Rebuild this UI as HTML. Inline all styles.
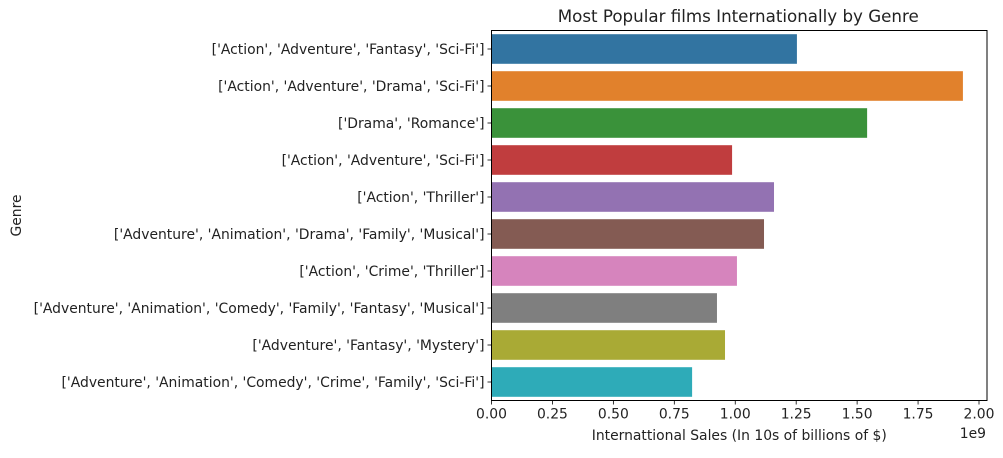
<!DOCTYPE html>
<html><head><meta charset="utf-8"><style>
body{margin:0;background:#fff;width:1003px;height:453px;overflow:hidden}
svg text{font-family:"DejaVu Sans","Liberation Sans",sans-serif;font-size:13.9px;fill:#222}
</style></head><body>
<svg id="chart" width="1003" height="453"></svg>
<script>
const categories=["['Action', 'Adventure', 'Fantasy', 'Sci-Fi']","['Action', 'Adventure', 'Drama', 'Sci-Fi']","['Drama', 'Romance']","['Action', 'Adventure', 'Sci-Fi']","['Action', 'Thriller']","['Adventure', 'Animation', 'Drama', 'Family', 'Musical']","['Action', 'Crime', 'Thriller']","['Adventure', 'Animation', 'Comedy', 'Family', 'Fantasy', 'Musical']","['Adventure', 'Fantasy', 'Mystery']","['Adventure', 'Animation', 'Comedy', 'Crime', 'Family', 'Sci-Fi']"];
const sales=[1.253e9,1.934e9,1.541e9,0.987e9,1.159e9,1.118e9,1.007e9,0.925e9,0.958e9,0.823e9];
const colors=["#3274a1","#e1812c","#3a923a","#c03d3e","#9372b2","#845b53","#d684bd","#7f7f7f","#a9aa35","#2eabb8"];
const xTicks=[0,0.25e9,0.5e9,0.75e9,1e9,1.25e9,1.5e9,1.75e9,2e9];
const xTickLabels=["0.00","0.25","0.50","0.75","1.00","1.25","1.50","1.75","2.00"];
const L=491.5,R=987,T=30.5,B=400.5;
const x=v=>L+v*(979-491.5)/2e9;
const band=(B-T)/categories.length;
const y=i=>T+band*i;
const svg=document.getElementById('chart');
const NS="http://www.w3.org/2000/svg";
function mk(tag,attrs,txt){const e=document.createElementNS(NS,tag);for(const k in attrs)e.setAttribute(k,attrs[k]);if(txt!=null)e.textContent=txt;svg.appendChild(e);return e;}
sales.forEach((v,i)=>{
  const r=mk('rect',{x:L,y:y(i)+band*0.1,width:x(v)-L,height:band*0.8,fill:colors[i]});
  
  
  mk('line',{x1:L-4,x2:L,y1:y(i)+band/2,y2:y(i)+band/2,stroke:'#000','stroke-width':0.8});
  const lb=mk('text',{x:L-7,y:y(i)+band/2+5,'text-anchor':'end'},categories[i]);
  
  
});
xTicks.forEach((v,i)=>{
  mk('line',{x1:x(v),x2:x(v),y1:B,y2:B+4,stroke:'#000','stroke-width':0.8});
  const lb=mk('text',{x:x(v),y:B+18,'text-anchor':'middle'},xTickLabels[i]);
  
  
});
mk('rect',{x:L,y:T,width:R-L,height:B-T,fill:'none',stroke:'#000','stroke-width':1});
const tt=mk('text',{x:(L+R)/2-1,y:22,'text-anchor':'middle',style:'font-size:16.7px'},'Most Popular films Internationally by Genre');


const xt=mk('text',{x:(L+R)/2,y:440,'text-anchor':'middle'},'Internattional Sales (In 10s of billions of $)');


const ex=mk('text',{x:986,y:438,'text-anchor':'end'},'1e9');


const yt=mk('text',{x:21,y:(T+B)/2,'text-anchor':'middle',transform:'rotate(-90 21 '+((T+B)/2)+')'},'Genre');


</script>
</body></html>
